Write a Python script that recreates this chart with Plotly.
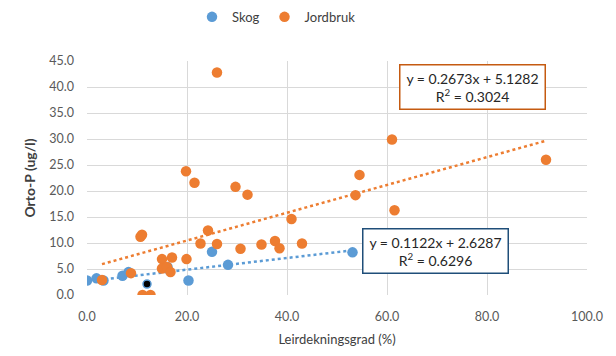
import plotly.graph_objects as go

# Data
skog_x = [0.0, 1.9, 3.3, 7.1, 8.3, 16.1, 20.3, 25.0, 28.2, 53.1]
skog_y = [2.8, 3.2, 2.8, 3.7, 4.4, 5.4, 2.8, 8.3, 5.8, 8.2]

jord_x = [3.0, 8.8, 10.7, 11.0, 11.1, 12.7, 15.0, 15.0, 16.0, 16.7, 17.0, 19.8, 19.9,
          21.5, 22.7, 24.2, 26.0, 26.0, 29.7, 30.7, 32.1, 34.9, 37.6, 38.5, 40.9,
          43.0, 53.7, 54.5, 61.0, 61.5, 91.8]
jord_y = [2.9, 4.2, 11.2, 11.6, 0.0, 0.0, 6.9, 5.1, 5.4, 4.4, 7.2, 23.8, 6.9,
          21.6, 9.9, 12.4, 42.8, 9.8, 20.8, 8.9, 19.3, 9.7, 10.4, 9.0, 14.6,
          9.9, 19.2, 23.1, 29.9, 16.3, 26.0]

extra_x = [12.0]
extra_y = [2.1]

# Trendline coefficients (as printed on the chart)
skog_fit = [0.1122, 2.6287]
skog_r2 = 0.6296
jord_fit = [0.2673, 5.1282]
jord_r2 = 0.3024

x_ticks = [0, 20, 40, 60, 80, 100]
y_ticks = [0, 5, 10, 15, 20, 25, 30, 35, 40, 45]

BLUE = "#5B9BD5"
ORANGE = "#ED7D31"
FONT = "Lato"

fig = go.Figure()

def trend(xs, fit):
    x0, x1 = min(xs), max(xs)
    return [x0, x1], [fit[0] * x0 + fit[1], fit[0] * x1 + fit[1]]

tx, ty = trend(jord_x, jord_fit)
fig.add_trace(go.Scatter(x=tx, y=ty, mode="lines", showlegend=False,
                         line=dict(color=ORANGE, width=2.5, dash="dot")))
tx, ty = trend(skog_x, skog_fit)
fig.add_trace(go.Scatter(x=tx, y=ty, mode="lines", showlegend=False,
                         line=dict(color=BLUE, width=2.5, dash="dot")))

fig.add_trace(go.Scatter(x=skog_x, y=skog_y, mode="markers", name="Skog",
                         marker=dict(color=BLUE, size=10.5)))
fig.add_trace(go.Scatter(x=jord_x, y=jord_y, mode="markers", name="Jordbruk",
                         marker=dict(color=ORANGE, size=10.5)))
fig.add_trace(go.Scatter(x=extra_x, y=extra_y, mode="markers", showlegend=False,
                         marker=dict(color="black", size=8,
                                     line=dict(color=BLUE, width=1.5))))

fig.add_annotation(xref="paper", yref="paper", x=0.771, y=0.987, xanchor="center", yanchor="top",
                   text=f"y = {jord_fit[0]}x + {jord_fit[1]}<br>R<sup>2</sup> = {jord_r2}",
                   showarrow=False, align="center",
                   font=dict(family=FONT, size=14, color="#262626"),
                   bordercolor="#C55A11", borderwidth=1.5, borderpad=4, bgcolor="white",
                   width=136)
fig.add_annotation(xref="paper", yref="paper", x=0.696, y=0.286, xanchor="center", yanchor="top",
                   text=f"y = {skog_fit[0]}x + {skog_fit[1]}<br>R<sup>2</sup> = {skog_r2}",
                   showarrow=False, align="center",
                   font=dict(family=FONT, size=14, color="#262626"),
                   bordercolor="#1F4E79", borderwidth=1.5, borderpad=4, bgcolor="white",
                   width=136)

fig.update_layout(
    width=616, height=356,
    margin=dict(l=79, r=37, t=53, b=69, autoexpand=False),
    paper_bgcolor="white", plot_bgcolor="white",
    font=dict(family=FONT, size=12.5, color="#595959"),
    legend=dict(orientation="h", x=0.379, xanchor="center",
                y=0.975, yref="container", yanchor="middle",
                font=dict(family=FONT, size=13, color="#404040"),
                itemwidth=30, tracegroupgap=0),
    xaxis=dict(range=[0, 100], tickvals=x_ticks, tickformat=".1f", automargin=False,
               showgrid=True, gridcolor="#D9D9D9", zeroline=False,
               showline=False, ticks="", ticklabelstandoff=12,
               title=dict(text="Leirdekningsgrad (%)", standoff=12,
                          font=dict(family=FONT, size=13, color="#404040"))),
    yaxis=dict(range=[0, 45], tickvals=y_ticks, tickformat=".1f", automargin=False,
               showgrid=True, gridcolor="#D9D9D9", zeroline=False,
               showline=False, ticks="", ticklabelstandoff=12,
               title=dict(text="<b>Orto-P (ug/l)</b>", standoff=10,
                          font=dict(family=FONT, size=14, color="#404040"))),
)

fig.write_html("out.html")
